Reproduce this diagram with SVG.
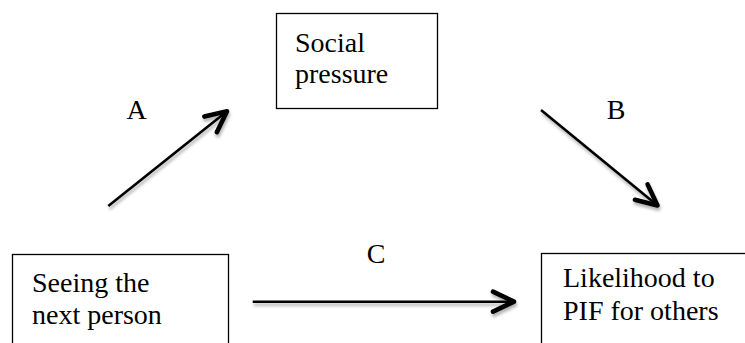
<svg xmlns="http://www.w3.org/2000/svg" width="745" height="343" viewBox="0 0 745 343">
<defs>
<style>
.box{fill:#fff;stroke:#000;stroke-width:1.3}
text{font-family:'Liberation Serif',serif !important;font-size:28px;fill:#000}
.lab{text-anchor:middle}
.edge{fill:none;stroke:#000;stroke-width:2.6;filter:url(#sh)}
</style>
<filter id="sh" filterUnits="userSpaceOnUse" x="0" y="0" width="745" height="343">
<feDropShadow dx="1" dy="3" stdDeviation="1.6" flood-color="#000" flood-opacity="0.3"/>
</filter>
<marker id="ah" markerUnits="userSpaceOnUse" orient="auto" refX="0" refY="0" markerWidth="30" markerHeight="30" overflow="visible">
<path d="M-21,-10 L0,0 L-21,10" fill="none" stroke="#000" stroke-width="4.6" stroke-linecap="round" stroke-linejoin="round"/>
</marker>
</defs>
<rect width="745" height="343" fill="#fff"/>
<g id="connectors">
<g id="edge-A"><path class="edge" d="M108.3,206 L227,111.3" marker-end="url(#ah)"/><text class="lab" x="136.5" y="119">A</text></g>
<g id="edge-B"><path class="edge" d="M541,110 L657.5,205.4" marker-end="url(#ah)"/><text class="lab" x="616" y="119">B</text></g>
<g id="edge-C"><path class="edge" d="M252.7,301.7 L514,301.7" marker-end="url(#ah)"/><text class="lab" x="376" y="263">C</text></g>
</g>
<g id="node-social">
<rect class="box" x="276.5" y="13.5" width="161" height="95"/>
<text x="295" y="52" style="font-family:'Liberation Serif',serif">Social</text>
<text x="295" y="83" style="font-family:'Liberation Serif',serif">pressure</text>
</g>
<g id="node-seeing">
<rect class="box" x="12.5" y="254.5" width="216" height="100"/>
<text x="32" y="291.5" style="font-family:'Liberation Serif',serif">Seeing the</text>
<text x="32" y="324" style="font-family:'Liberation Serif',serif">next person</text>
</g>
<g id="node-likelihood">
<rect class="box" x="541.5" y="253.5" width="220" height="100"/>
<text x="563" y="287.3" style="font-family:'Liberation Serif',serif">Likelihood to</text>
<text x="563" y="320" style="font-family:'Liberation Serif',serif">PIF for others</text>
</g>
</svg>
